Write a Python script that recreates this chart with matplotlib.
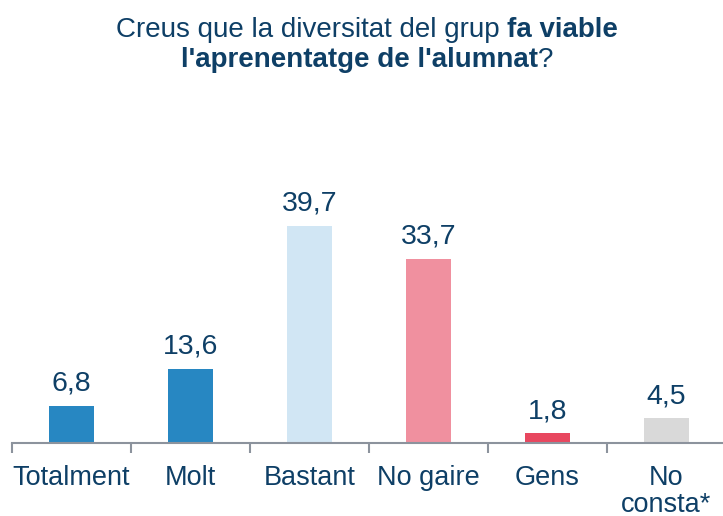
import matplotlib
matplotlib.use('Agg')
import matplotlib.pyplot as plt

plt.rcParams['font.family'] = ['Liberation Sans', 'DejaVu Sans']

categories = ['Totalment', 'Molt', 'Bastant', 'No gaire', 'Gens', 'No\nconsta*']
values = [6.8, 13.6, 39.7, 33.7, 1.8, 4.5]
labels = ['6,8', '13,6', '39,7', '33,7', '1,8', '4,5']
colors = ['#2787C2', '#2787C2', '#D1E6F4', '#F0909F', '#E8475F', '#D9D9D9']

txt = '#0E3F66'
W, H = 723, 516
fig = plt.figure(figsize=(W / 100, H / 100), dpi=100)
ax = fig.add_axes([12 / W, (H - 443) / H, 714 / W, 300 / H])

x = range(len(categories))
ax.bar(x, values, width=0.37, color=colors, zorder=2)
ax.set_xlim(-0.5, 5.5)
ax.set_ylim(0, 300 / 5.466)

for i, (v, l) in enumerate(zip(values, labels)):
    ax.text(i, v + 2.75, l, ha='center', va='baseline', fontsize=20.5, color=txt)

for s in ['top', 'right', 'left']:
    ax.spines[s].set_visible(False)
ax.spines['bottom'].set_color('#8C939D')
ax.spines['bottom'].set_linewidth(1.5)
ax.set_yticks([])

ax.set_xticks([i - 0.5 for i in range(7)])
ax.set_xticklabels([])
ax.tick_params(axis='x', length=7, width=1.5, color='#8C939D')
ax.set_xticks(list(x), minor=True)
ax.set_xticklabels(categories, minor=True, fontsize=19.5, color=txt, linespacing=1.05)
ax.tick_params(axis='x', which='minor', length=0, pad=15.5)
for t in ax.get_xticklabels(minor=True):
    t.set_va('top')

# title with mixed bold pieces
fig.canvas.draw()
r = fig.canvas.get_renderer()
fs = 20

def line(parts, y):
    widths = []
    for s, w in parts:
        t = fig.text(0, 0, s, fontsize=fs, fontweight=w)
        widths.append(t.get_window_extent(r).width)
        t.remove()
    x0 = 367 - sum(widths) / 2
    for (s, w), wd in zip(parts, widths):
        fig.text(x0 / W, 1 - y / H, s, fontsize=fs, fontweight=w, color=txt,
                 va='center', ha='left')
        x0 += wd

line([('Creus que la diversitat del grup ', 'normal'), ('fa viable', 'bold')], 30)
line([("l'aprenentatge de l'alumnat", 'bold'), ('?', 'normal')], 60)

fig.savefig('out.png', dpi=100)
